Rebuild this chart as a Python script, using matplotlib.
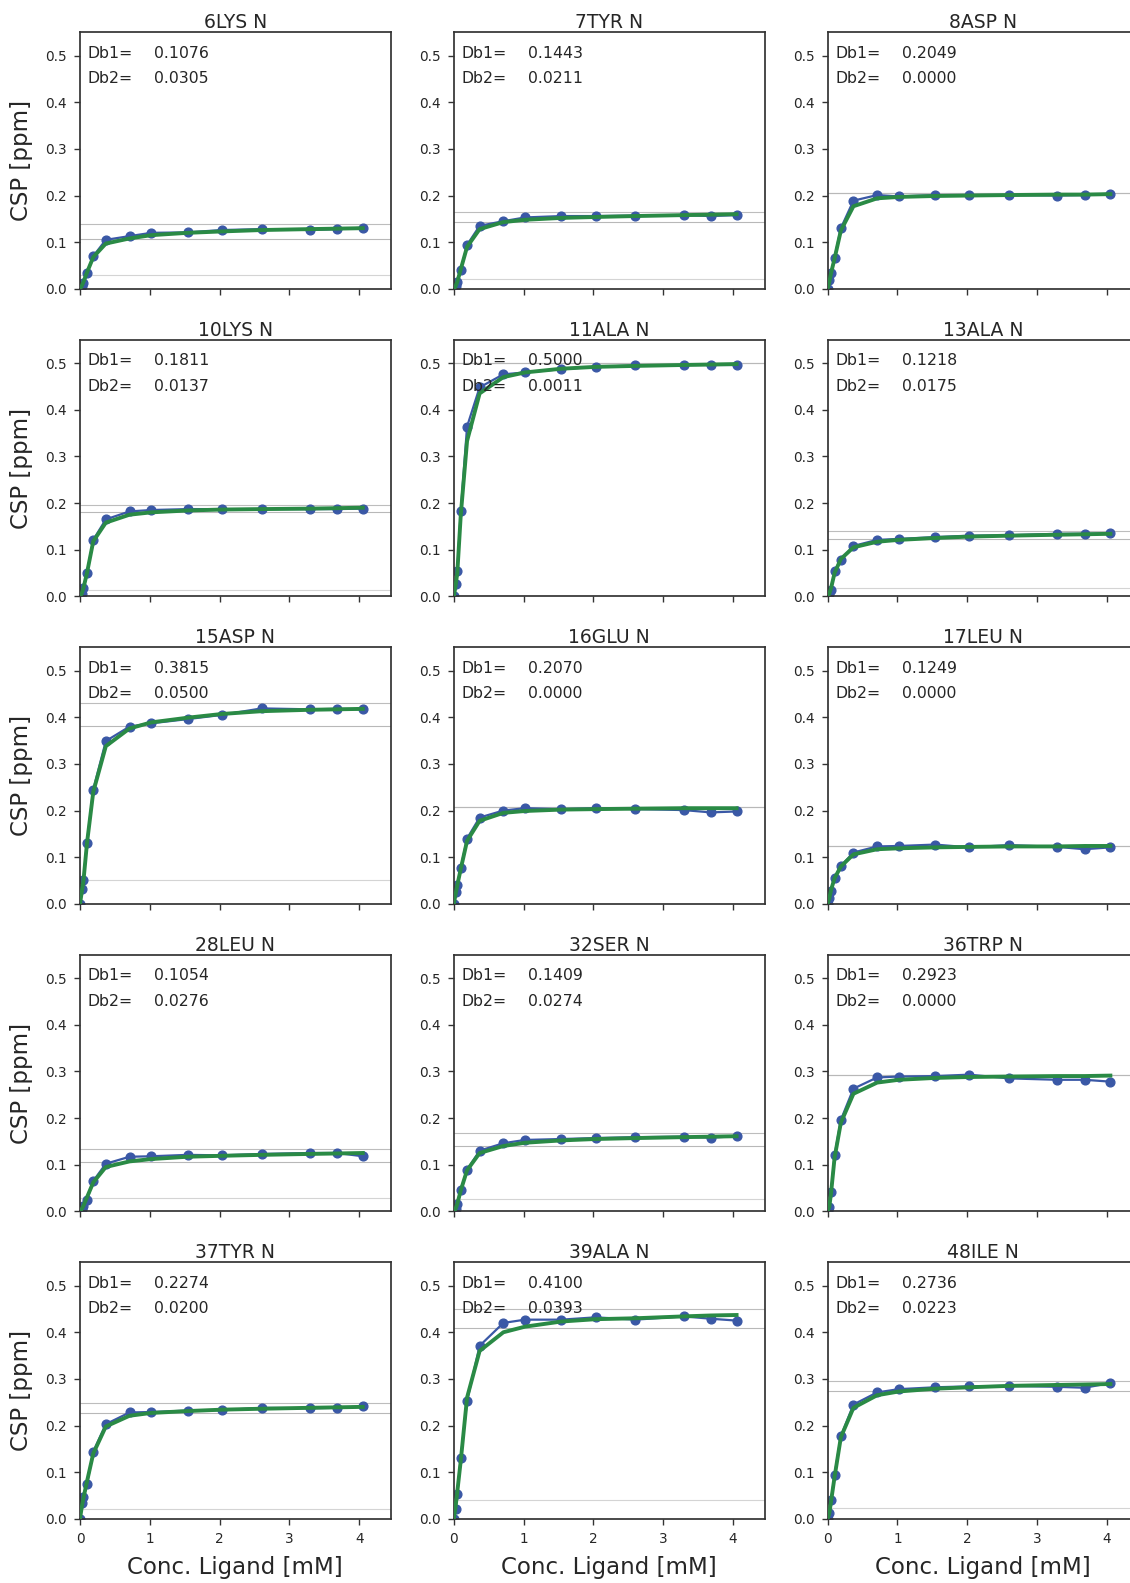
import matplotlib
matplotlib.use("Agg")
import matplotlib.pyplot as plt

# Ligand concentrations of the titration series [mM]
conc = [0.0, 0.025, 0.05, 0.1, 0.19, 0.37, 0.71, 1.02, 1.54, 2.03, 2.60, 3.29, 3.68, 4.05]

residues = ["6LYS N", "7TYR N", "8ASP N", "10LYS N", "11ALA N", "13ALA N",
            "15ASP N", "16GLU N", "17LEU N", "28LEU N", "32SER N", "36TRP N",
            "37TYR N", "39ALA N", "48ILE N"]

db1 = [0.1076, 0.1443, 0.2049, 0.1811, 0.5000, 0.1218,
       0.3815, 0.2070, 0.1249, 0.1054, 0.1409, 0.2923,
       0.2274, 0.4100, 0.2736]
db2 = [0.0305, 0.0211, 0.0000, 0.0137, 0.0011, 0.0175,
       0.0500, 0.0000, 0.0000, 0.0276, 0.0274, 0.0000,
       0.0200, 0.0393, 0.0223]

# Measured chemical shift perturbations [ppm]
obs_6lys = [0.0, 0.005, 0.013, 0.033, 0.070, 0.105, 0.113, 0.120, 0.121, 0.126, 0.128, 0.126, 0.128, 0.131]
obs_7tyr = [0.0, 0.005, 0.014, 0.040, 0.094, 0.135, 0.145, 0.153, 0.156, 0.156, 0.157, 0.158, 0.156, 0.158]
obs_8asp = [0.0, 0.019, 0.034, 0.067, 0.130, 0.189, 0.201, 0.198, 0.201, 0.201, 0.201, 0.200, 0.201, 0.204]
obs_10lys = [0.0, 0.006, 0.018, 0.049, 0.121, 0.165, 0.182, 0.185, 0.187, 0.187, 0.187, 0.187, 0.187, 0.188]
obs_11ala = [0.0, 0.027, 0.055, 0.183, 0.364, 0.448, 0.476, 0.480, 0.487, 0.492, 0.495, 0.496, 0.496, 0.496]
obs_13ala = [0.0, 0.005, 0.013, 0.055, 0.078, 0.108, 0.121, 0.123, 0.127, 0.130, 0.131, 0.134, 0.134, 0.135]
obs_15asp = [0.0, 0.032, 0.052, 0.131, 0.245, 0.349, 0.380, 0.387, 0.396, 0.405, 0.419, 0.417, 0.418, 0.417]
obs_16glu = [0.0, 0.025, 0.040, 0.077, 0.140, 0.185, 0.200, 0.205, 0.203, 0.205, 0.203, 0.201, 0.196, 0.198]
obs_17leu = [0.0, 0.012, 0.027, 0.055, 0.081, 0.110, 0.123, 0.124, 0.127, 0.121, 0.126, 0.122, 0.117, 0.121]
obs_28leu = [0.0, 0.005, 0.012, 0.025, 0.065, 0.102, 0.117, 0.118, 0.121, 0.120, 0.123, 0.125, 0.125, 0.118]
obs_32ser = [0.0, 0.005, 0.016, 0.045, 0.089, 0.130, 0.146, 0.153, 0.155, 0.157, 0.159, 0.160, 0.158, 0.161]
obs_36trp = [0.0, 0.010, 0.042, 0.120, 0.196, 0.263, 0.287, 0.289, 0.290, 0.293, 0.285, 0.282, 0.282, 0.278]
obs_37tyr = [0.0, 0.033, 0.046, 0.075, 0.144, 0.203, 0.228, 0.229, 0.232, 0.233, 0.238, 0.237, 0.238, 0.241]
obs_39ala = [0.0, 0.022, 0.054, 0.131, 0.253, 0.371, 0.420, 0.427, 0.427, 0.432, 0.427, 0.434, 0.429, 0.425]
obs_48ile = [0.0, 0.012, 0.040, 0.094, 0.177, 0.245, 0.271, 0.278, 0.282, 0.284, 0.285, 0.283, 0.281, 0.291]

# Fitted binding curves evaluated at the titration points [ppm]
fit_6lys = [0.0, 0.006, 0.015, 0.035, 0.068, 0.097, 0.108, 0.115, 0.120, 0.123, 0.126, 0.128, 0.129, 0.130]
fit_7tyr = [0.0, 0.005, 0.015, 0.042, 0.090, 0.128, 0.143, 0.148, 0.152, 0.154, 0.156, 0.158, 0.159, 0.160]
fit_8asp = [0.0, 0.015, 0.034, 0.065, 0.125, 0.177, 0.194, 0.197, 0.199, 0.200, 0.201, 0.202, 0.202, 0.203]
fit_10lys = [0.0, 0.006, 0.018, 0.050, 0.118, 0.158, 0.175, 0.180, 0.184, 0.186, 0.187, 0.188, 0.189, 0.190]
fit_11ala = [0.0, 0.022, 0.050, 0.175, 0.333, 0.435, 0.470, 0.480, 0.488, 0.492, 0.494, 0.496, 0.497, 0.498]
fit_13ala = [0.0, 0.006, 0.018, 0.050, 0.080, 0.105, 0.117, 0.121, 0.125, 0.128, 0.130, 0.132, 0.133, 0.134]
fit_15asp = [0.0, 0.025, 0.050, 0.130, 0.240, 0.338, 0.376, 0.389, 0.399, 0.407, 0.413, 0.416, 0.417, 0.418]
fit_16glu = [0.0, 0.020, 0.040, 0.075, 0.135, 0.178, 0.195, 0.199, 0.202, 0.203, 0.204, 0.205, 0.205, 0.205]
fit_17leu = [0.0, 0.012, 0.030, 0.055, 0.080, 0.106, 0.117, 0.119, 0.121, 0.122, 0.123, 0.123, 0.124, 0.124]
fit_28leu = [0.0, 0.005, 0.012, 0.030, 0.062, 0.095, 0.107, 0.112, 0.117, 0.119, 0.121, 0.123, 0.124, 0.125]
fit_32ser = [0.0, 0.005, 0.016, 0.045, 0.088, 0.125, 0.140, 0.147, 0.152, 0.155, 0.157, 0.159, 0.160, 0.161]
fit_36trp = [0.0, 0.010, 0.040, 0.115, 0.190, 0.252, 0.276, 0.282, 0.286, 0.288, 0.289, 0.290, 0.290, 0.291]
fit_37tyr = [0.0, 0.025, 0.045, 0.080, 0.140, 0.198, 0.221, 0.227, 0.231, 0.234, 0.236, 0.238, 0.239, 0.240]
fit_39ala = [0.0, 0.025, 0.058, 0.125, 0.260, 0.360, 0.400, 0.412, 0.423, 0.428, 0.430, 0.434, 0.436, 0.437]
fit_48ile = [0.0, 0.012, 0.038, 0.090, 0.175, 0.238, 0.265, 0.273, 0.279, 0.282, 0.285, 0.287, 0.288, 0.289]

observed = [obs_6lys, obs_7tyr, obs_8asp, obs_10lys, obs_11ala, obs_13ala,
            obs_15asp, obs_16glu, obs_17leu, obs_28leu, obs_32ser, obs_36trp,
            obs_37tyr, obs_39ala, obs_48ile]
fitted = [fit_6lys, fit_7tyr, fit_8asp, fit_10lys, fit_11ala, fit_13ala,
          fit_15asp, fit_16glu, fit_17leu, fit_28leu, fit_32ser, fit_36trp,
          fit_37tyr, fit_39ala, fit_48ile]

yticks = [0.0, 0.1, 0.2, 0.3, 0.4, 0.5]
xticks = [0, 1, 2, 3, 4]

TEXT = "#262626"
SPINE = "#333333"
BLUE = "#3a58a6"
GREEN = "#2a8a45"

plt.rcParams.update({
    "font.family": ["DejaVu Sans"],
    "text.color": TEXT,
    "axes.labelcolor": TEXT,
    "xtick.color": SPINE,
    "ytick.color": SPINE,
    "xtick.labelcolor": TEXT,
    "ytick.labelcolor": TEXT,
    "xtick.major.size": 4.5,
    "ytick.major.size": 4.5,
    "xtick.major.width": 1.0,
    "ytick.major.width": 1.0,
    "xtick.major.pad": 5.0,
    "ytick.major.pad": 5.0,
    "xtick.labelsize": 9.8,
    "ytick.labelsize": 9.8,
})

W, H = 1130, 1583
fig = plt.figure(figsize=(W / 100, H / 100), dpi=100)

ax_left0, ax_top0 = 80.0, 32.3
ax_w, ax_h = 310.7, 256.5
col_step, row_step = 373.8, 307.5
nrows, ncols = 5, 3

for i, name in enumerate(residues):
    r, c = divmod(i, ncols)
    left = ax_left0 + c * col_step
    top = ax_top0 + r * row_step
    ax = fig.add_axes([left / W, 1 - (top + ax_h) / H, ax_w / W, ax_h / H])

    for level, col in ((db1[i] + db2[i], "#bdbdbd"), (db1[i], "#b8b8b8"), (db2[i], "#d4d4d4")):
        ax.axhline(level, color=col, lw=0.8, zorder=1)

    ax.plot(conc, observed[i], "-o", color=BLUE, lw=1.6, ms=6.3, zorder=2)
    ax.plot(conc, fitted[i], "-", color=GREEN, lw=2.8, zorder=3)

    ax.set_xlim(0, 4.45)
    ax.set_ylim(0, 0.55)
    ax.set_yticks(yticks)
    ax.set_yticklabels([f"{v:.1f}" for v in yticks])
    ax.set_xticks(xticks)
    if r == nrows - 1:
        ax.set_xticklabels([str(v) for v in xticks])
        ax.set_xlabel("Conc. Ligand [mM]", fontsize=16.5)
        ax.xaxis.set_label_coords(0.5, -0.145)
    else:
        ax.set_xticklabels([])
    if c == 0:
        ax.set_ylabel("CSP [ppm]", fontsize=16.5)
        ax.yaxis.set_label_coords(-0.15, 0.5)

    for sp in ax.spines.values():
        sp.set_color(SPINE)
        sp.set_linewidth(1.25)

    ax.set_title(name, fontsize=13.5, pad=2.6, color=TEXT)
    ax.text(0.025, 0.918, "Db1=", transform=ax.transAxes, fontsize=11.3, va="center", ha="left")
    ax.text(0.238, 0.918, f"{db1[i]:.4f}", transform=ax.transAxes, fontsize=11.3, va="center", ha="left")
    ax.text(0.025, 0.818, "Db2=", transform=ax.transAxes, fontsize=11.3, va="center", ha="left")
    ax.text(0.238, 0.818, f"{db2[i]:.4f}", transform=ax.transAxes, fontsize=11.3, va="center", ha="left")

fig.savefig("out.png", dpi=100)
